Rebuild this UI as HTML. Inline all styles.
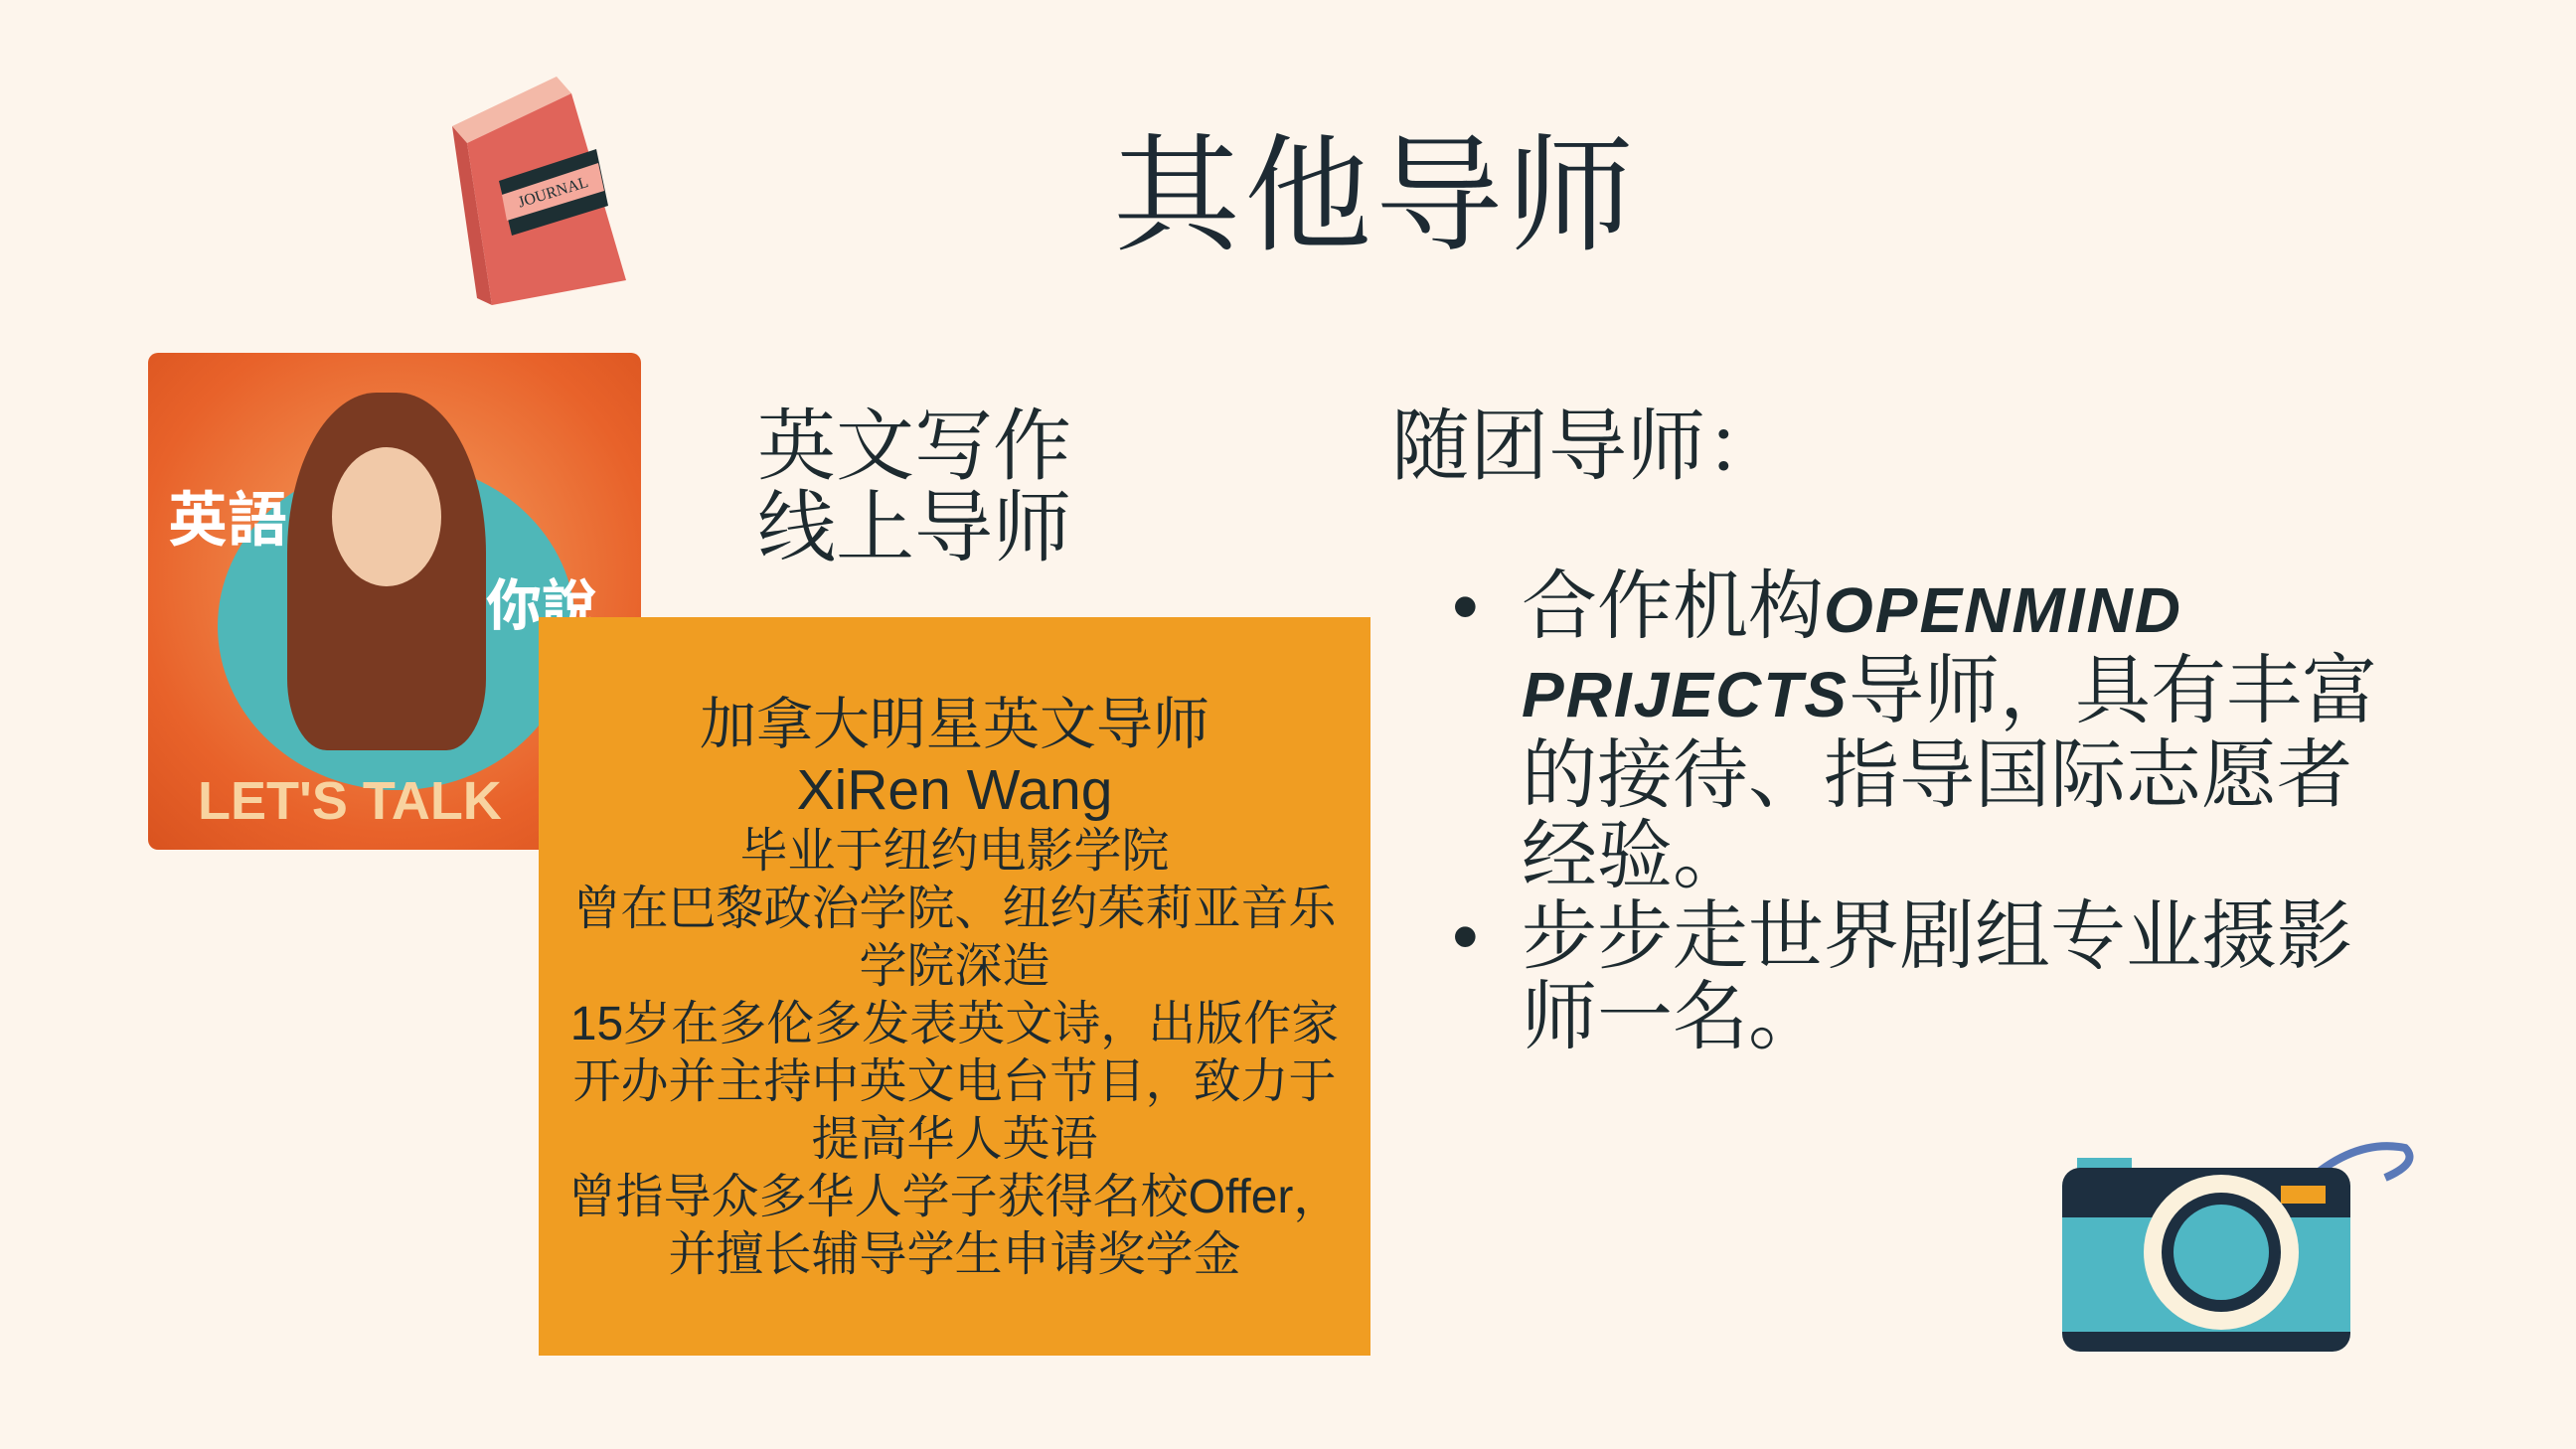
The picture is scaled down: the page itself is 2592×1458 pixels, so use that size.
<!DOCTYPE html>
<html><head><meta charset="utf-8"><style>
body{margin:0;width:2592px;height:1458px;background:#fdf5ec;position:relative;overflow:hidden;font-family:"Liberation Sans","Noto Serif CJK SC","Noto Sans CJK SC",serif;color:#1d2a2f}
.a{position:absolute}
</style></head><body>
<div class="a" style="left:1120px;top:94px;font-size:128px;font-family:'Noto Serif CJK SC',serif;letter-spacing:4px;color:#1d2a33">其他导师</div>

<svg class="a" style="left:450px;top:72px" width="185" height="240" viewBox="0 0 185 240">
<polygon points="5,55 110,5 125,22 20,72" fill="#f3b9a8"/>
<polygon points="5,55 20,72 45,235 30,228" fill="#c9524a"/>
<polygon points="20,72 125,22 180,210 45,235" fill="#e0645a"/>
<polygon points="52,110 150,78 162,135 65,165" fill="#1d2f33"/>
<polygon points="55,124 152,92 158,120 60,150" fill="#f4a99c"/>
<text x="108" y="126" font-size="16" fill="#1d2f33" transform="rotate(-17 108 126)" text-anchor="middle" font-family="Liberation Serif">JOURNAL</text>
</svg>

<div class="a" style="left:149px;top:355px;width:496px;height:500px;border-radius:10px;overflow:hidden;background:radial-gradient(circle at 50% 45%,#f5a060,#e8622a 70%,#d9531f)">
<div class="a" style="left:70px;top:110px;width:360px;height:330px;border-radius:50%;background:#4fb7b8"></div>
<div class="a" style="left:140px;top:40px;width:200px;height:360px;border-radius:45% 45% 20% 20%;background:#7a3a22"></div>
<div class="a" style="left:185px;top:95px;width:110px;height:140px;border-radius:50%;background:#f1c9a8"></div>
<div class="a" style="left:20px;top:120px;font-size:60px;color:#fff;font-weight:bold;font-family:'Noto Sans CJK SC'">英語</div>
<div class="a" style="left:340px;top:210px;font-size:56px;color:#fff;font-weight:bold;font-family:'Noto Sans CJK SC'">你說</div>
<div class="a" style="left:50px;top:420px;font-size:54px;color:#f8d3a0;font-weight:bold">LET'S TALK</div>
</div>

<div class="a" style="left:542px;top:621px;width:837px;height:743px;background:#f09d22"></div>
<div class="a" style="left:542px;top:696px;width:837px;text-align:center;font-size:48px;line-height:58px;color:#1d2a2f">
<div style="font-size:57px;line-height:66px">加拿大明星英文导师</div>
<div style="font-size:57px;line-height:66px">XiRen Wang</div>
<div>毕业于纽约电影学院</div>
<div>曾在巴黎政治学院、纽约茱莉亚音乐<br>学院深造</div>
<div>15岁在多伦多发表英文诗，出版作家</div>
<div>开办并主持中英文电台节目，致力于<br>提高华人英语</div>
<div>曾指导众多华人学子获得名校Offer，<br>并擅长辅导学生申请奖学金</div>
</div>

<div class="a" style="left:762px;top:408px;font-size:79px;line-height:82px">英文写作<br>线上导师</div>
<div class="a" style="left:1400px;top:408px;font-size:79px;line-height:82px">随团导师：</div>

<div class="a" style="left:1531px;top:570px;width:880px;font-size:76px;line-height:81px">
<div style="position:relative"><span style="position:absolute;left:-70px">•</span>合作机构<b style="font-family:'Liberation Sans';font-style:italic;font-size:64px;letter-spacing:2px">OPENMIND PRIJECTS</b>导师，具有丰富的接待、指导国际志愿者经验。</div>
<div style="position:relative"><span style="position:absolute;left:-70px">•</span>步步走世界剧组专业摄影师一名。</div>
</div>

<svg class="a" style="left:2070px;top:1145px" width="360" height="225" viewBox="0 0 360 225">
<path d="M250,45 Q300,0 350,10 Q365,25 330,40" fill="none" stroke="#5a79b8" stroke-width="8"/>
<rect x="20" y="20" width="55" height="20" fill="#4fb7c4"/>
<rect x="5" y="30" width="290" height="185" rx="18" fill="#1d2f40"/>
<rect x="5" y="80" width="290" height="115" fill="#4fb7c4"/>
<rect x="225" y="48" width="45" height="18" fill="#f0a022"/>
<circle cx="165" cy="115" r="78" fill="#fbf1dc"/>
<circle cx="165" cy="115" r="60" fill="#1d2f40"/>
<circle cx="165" cy="115" r="48" fill="#4fb7c4"/>
</svg>
</body></html>
